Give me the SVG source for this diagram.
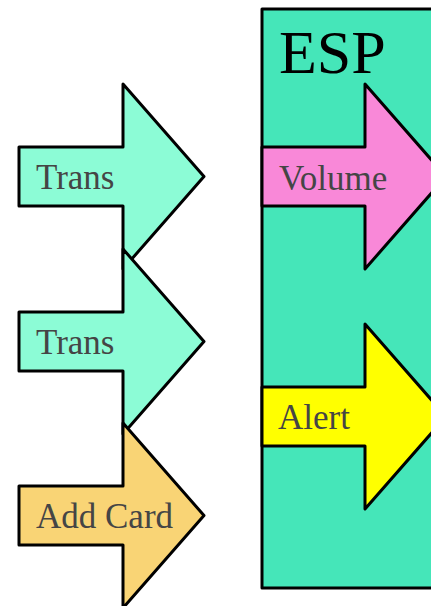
<svg xmlns="http://www.w3.org/2000/svg" width="431" height="606" viewBox="0 0 431 606">
<style>
.a{stroke:#000;stroke-width:3;stroke-linejoin:round}
.t{font-family:"Liberation Serif","Times New Roman",serif;font-size:35px;fill:#454545}
.mint{fill:#8cfcd6}
</style>
<rect width="431" height="606" fill="#fff"/>
<g id="esp">
<rect class="a" x="262" y="9" width="190" height="579" fill="#45e6b9"/>
<text x="279" y="73" font-family="Liberation Serif,serif" font-size="62" fill="#000">ESP</text>
</g>
<g id="volume">
<path class="a" d="M262,147 H365 V84 L446,176.5 L365,269 V206 H262 Z" fill="#f988d8"/>
<text class="t" x="279" y="190">Volume</text>
</g>
<g id="alert">
<path class="a" d="M262,387 H365 V324 L446,416.5 L365,509 V446 H262 Z" fill="#ffff00"/>
<text class="t" x="278" y="429">Alert</text>
</g>
<g id="trans1">
<path class="a mint" d="M19,147 H123 V84 L204,176.5 L123,269 V206 H19 Z"/>
<text class="t" x="36" y="189">Trans</text>
</g>
<g id="trans2">
<path class="a mint" d="M19,312 H123 V249 L204,341.5 L123,434 V371 H19 Z"/>
<text class="t" x="36" y="354">Trans</text>
</g>
<g id="addcard">
<path class="a" d="M19,486 H123 V423 L204,515.5 L123,608 V545 H19 Z" fill="#f9d475"/>
<text class="t" x="36" y="528">Add Card</text>
</g>
<g id="connectors"/>
</svg>
